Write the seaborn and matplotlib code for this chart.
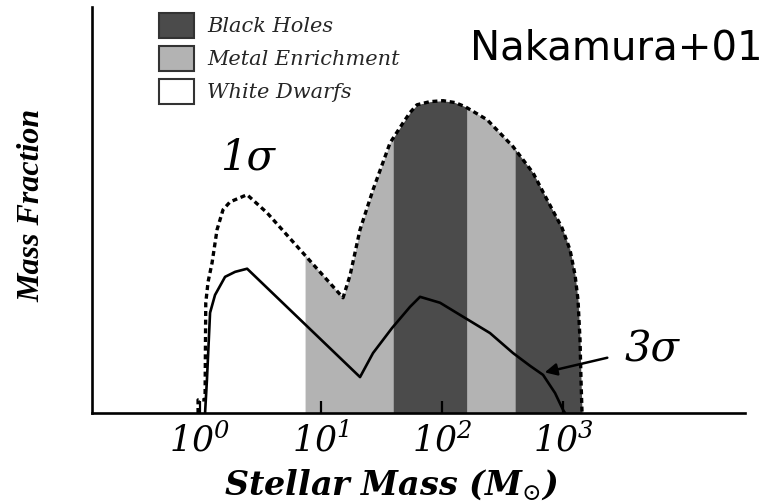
import numpy as np
import matplotlib
matplotlib.use("Agg")
import matplotlib.pyplot as plt
import seaborn as sns
from matplotlib.patches import Patch
from matplotlib.ticker import NullLocator

# ---- data ----
mass_1sigma = [0.963, 0.963, 1.10, 1.115, 1.165, 1.257, 1.382, 1.549, 1.770, 2.446, 3.58,
               15.2, 17.4, 21.0, 26.9, 37.2, 47.6, 54.4, 62.1, 79.6, 102, 128, 155,
               236, 386, 565, 738, 981, 1143, 1257, 1330, 1382, 1408, 1436]
frac_1sigma = [0.0, 0.042, 0.042, 0.353, 0.420, 0.481, 0.587, 0.651, 0.676, 0.699, 0.641,
               0.369, 0.442, 0.587, 0.715, 0.865, 0.929, 0.962, 0.987, 0.997, 1.000, 0.994, 0.981,
               0.939, 0.853, 0.769, 0.683, 0.593, 0.522, 0.442, 0.362, 0.234, 0.106, 0.0]

mass_3sigma = [1.10, 1.14, 1.21, 1.33, 1.61, 1.95, 2.45, 21.0, 26.9, 38.6, 54.4,
               65.8, 96.3, 141, 249, 386, 534, 684, 859, 1000, 1039]
frac_3sigma = [0.0, 0.106, 0.321, 0.378, 0.436, 0.452, 0.462, 0.115, 0.192, 0.272, 0.340,
               0.372, 0.353, 0.314, 0.256, 0.192, 0.151, 0.122, 0.064, 0.010, 0.0]

band_edges = [7.38, 39.4, 161, 401, 1436]
band_kind = ["Metal Enrichment", "Black Holes", "Metal Enrichment", "Black Holes"]
legend_labels = ["Black Holes", "Metal Enrichment", "White Dwarfs"]
kind_colors = {"Black Holes": "#4b4b4b", "Metal Enrichment": "#b3b3b3", "White Dwarfs": "#ffffff"}

tick_values = [1, 10, 100, 1000]
tick_labels = [r"$10^{0}$", r"$10^{1}$", r"$10^{2}$", r"$10^{3}$"]

label_1sigma_pos = (2.45, 0.817)
label_3sigma_pos = (5445, 0.202)
arrow_tip = (670, 0.128)
arrow_tail = (2445, 0.179)

# ---- style ----
sns.set_theme(style="white")
plt.rcParams['mathtext.fontset'] = 'custom'
plt.rcParams['mathtext.rm'] = 'DejaVu Serif:italic'
plt.rcParams['mathtext.it'] = 'DejaVu Serif:italic'
plt.rcParams['mathtext.bf'] = 'DejaVu Serif:bold:italic'
plt.rcParams['font.family'] = ['DejaVu Serif']

W, H = 764, 503
fig = plt.figure(figsize=(W / 100, H / 100), dpi=100)
ax = fig.add_axes([92 / W, 90 / H, 653 / W, 406 / H])
ax.set_xscale('log')

# bands under the 1-sigma curve
lm = np.log10(mass_1sigma)
for i, kind in enumerate(band_kind):
    g = np.geomspace(band_edges[i], band_edges[i + 1], 300)
    yv = np.interp(np.log10(g), lm, frac_1sigma)
    ax.fill_between(g, 0, yv, color=kind_colors[kind], lw=0, zorder=1)

sns.lineplot(x=mass_1sigma, y=frac_1sigma, ax=ax, sort=False, estimator=None,
             color='black', lw=2.4, zorder=3)
ax.lines[-1].set_linestyle((0, (1.5, 1.1)))
sns.lineplot(x=mass_3sigma, y=frac_3sigma, ax=ax, sort=False, estimator=None,
             color='black', lw=1.9, zorder=3)

ax.set_xlim(10 ** -0.893, 10 ** 4.504)
ax.set_ylim(0, 1.30)

for s in ['top', 'right']:
    ax.spines[s].set_visible(False)
for s in ['left', 'bottom']:
    ax.spines[s].set_color('black')
    ax.spines[s].set_linewidth(1.9)

ax.set_xticks(tick_values)
ax.set_xticklabels(tick_labels)
ax.xaxis.set_minor_locator(NullLocator())
ax.set_yticks([])
ax.tick_params(axis='x', which='major', bottom=True, direction='in', length=9,
               width=1.6, pad=7, labelsize=25, colors='black')
ax.set_axisbelow(False)

ax.set_xlabel(r"Stellar Mass (M$_{\odot}$)", fontsize=24, fontweight='bold',
              fontstyle='italic', family='DejaVu Serif', color='black')
ax.xaxis.set_label_coords((391 - 92) / 653, (413 - 485) / 406)
ax.xaxis.label.set_va('center')
ax.set_ylabel("Mass Fraction", fontsize=23, fontweight='bold', fontstyle='italic',
              family='Liberation Serif', color='black')
ax.yaxis.set_label_coords((32 - 92) / 653, (413 - 205) / 406)
ax.yaxis.label.set_va('center')

ax.text(*label_1sigma_pos, "1σ", fontsize=30, fontstyle='italic', family='DejaVu Serif',
        ha='center', va='center', color='black')
ax.text(*label_3sigma_pos, "3σ", fontsize=30, fontstyle='italic', family='DejaVu Serif',
        ha='center', va='center', color='black')
ax.annotate('', xy=arrow_tip, xytext=arrow_tail,
            arrowprops=dict(arrowstyle='-|>', color='black', lw=1.8, mutation_scale=18))

handles = [Patch(facecolor=kind_colors[k], edgecolor='#333333', lw=1.5) for k in legend_labels]
ax.legend(handles, legend_labels, loc='upper left', bbox_to_anchor=(159 / W, 1 - 13 / H),
          bbox_transform=fig.transFigure, frameon=False, borderpad=0, borderaxespad=0,
          handlelength=1.68, handleheight=1.45, labelspacing=0.40, handletextpad=0.62,
          prop=dict(family='DejaVu Serif', style='italic', size=15))

fig.text(470 / W, 1 - 49 / H, "Nakamura+01", fontsize=29, family='DejaVu Sans',
         ha='left', va='center', color='black')

fig.savefig("out.png", dpi=100)
